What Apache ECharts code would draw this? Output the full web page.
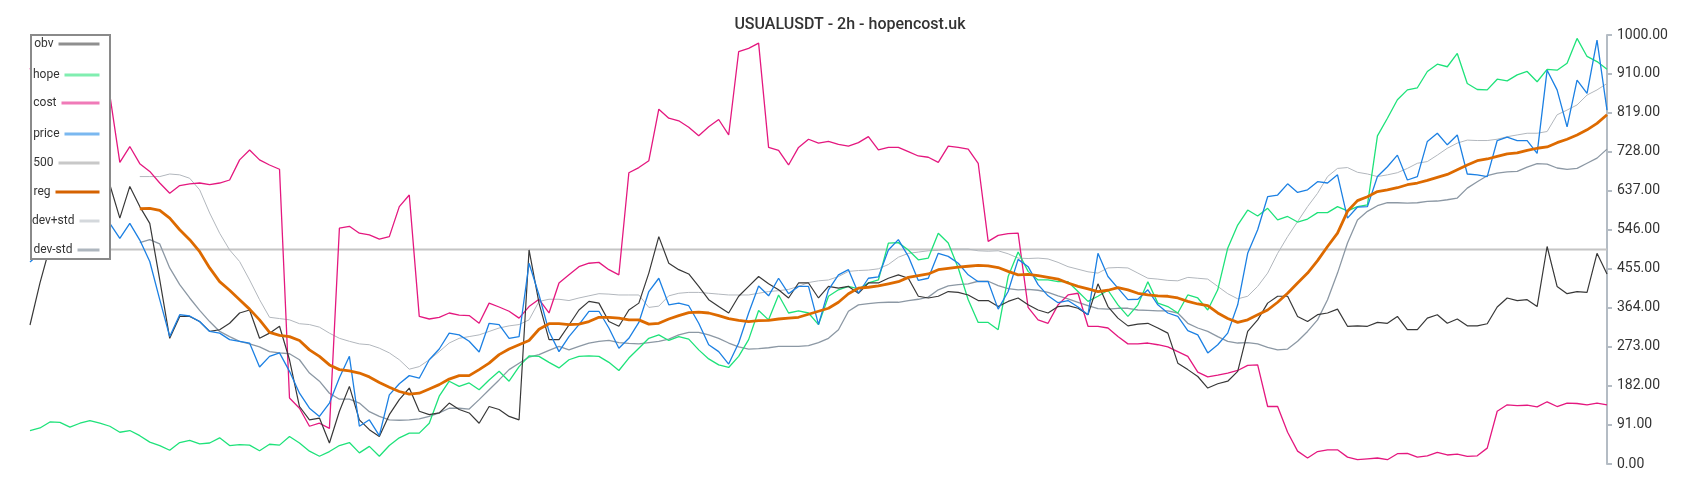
<!DOCTYPE html>
<html>
<head>
<meta charset="utf-8">
<title>USUALUSDT - 2h - hopencost.uk</title>
<script src="https://cdn.jsdelivr.net/npm/echarts@6/dist/echarts.min.js"></script>
<style>
  html, body { margin: 0; padding: 0; background: #fff; }
  #chart { width: 1700px; height: 500px; }
</style>
</head>
<body>
<div id="chart"></div>
<script>
// values, one point per ~10px (2h bars)
const obv = [
  324, 422, 507, 553, 592, 623, 647, 662, 651, 573, 647, 600, 561, 429, 293, 344, 344, 332, 309, 313, 328, 352, 359, 293, 305, 321, 243, 134,
  103, 107, 49, 123, 181, 103, 80, 64, 115, 150, 177, 123, 115, 119, 142, 127, 119, 95, 134, 127, 111, 103, 499, 375, 290, 290, 324,
  359, 379, 375, 332, 321, 359, 375, 445, 530, 468, 453, 443, 414, 383, 367, 352, 391, 414, 437, 420, 406, 387, 422, 422, 387, 414, 410,
  414, 398, 422, 422, 433, 441, 433, 391, 387, 391, 402, 400, 394, 381, 381, 367, 379, 387, 371, 359, 352, 367, 369, 363, 348, 420, 367,
  340, 322, 326, 328, 317, 305, 235, 220, 204, 177, 187, 193, 216, 309, 336, 375, 391, 391, 344, 332, 348, 352, 361, 321, 322, 321, 330,
  328, 344, 313, 313, 340, 348, 328, 338, 322, 322, 327, 366, 387, 381, 383, 367, 507, 414, 397, 402, 400, 491, 443
]

const hope = [
  78, 84, 98, 97, 86, 95, 101, 95, 88, 74, 78, 66, 51, 43, 32, 50, 55, 47, 49, 61, 43, 45, 44, 31, 46, 44, 64, 49,
  30, 18, 29, 43, 50, 26, 41, 18, 43, 61, 72, 72, 95, 158, 193, 181, 189, 173, 196, 216, 193, 227, 252, 251, 237, 224, 243,
  251, 252, 251, 237, 218, 247, 270, 293, 301, 288, 297, 291, 266, 245, 231, 225, 251, 290, 358, 336, 394, 352, 357, 352, 325, 391, 406,
  414, 408, 422, 429, 515, 516, 499, 476, 480, 538, 515, 457, 383, 330, 330, 313, 437, 494, 449, 429, 429, 425, 425, 402, 379, 391, 405,
  371, 344, 371, 425, 375, 367, 352, 394, 387, 359, 406, 503, 557, 592, 578, 596, 569, 577, 564, 571, 586, 586, 600, 590, 600, 604, 765,
  806, 849, 872, 877, 915, 932, 926, 957, 887, 873, 872, 897, 893, 907, 915, 891, 920, 918, 934, 992, 950, 938, 920
]

const cost = [
  920, 960, 990, 998, 975, 945, 915, 885, 860, 703, 740, 700, 682, 655, 631, 649, 653, 655, 651, 655, 662, 709, 732, 709, 697, 687, 154, 130,
  88, 95, 83, 550, 554, 538, 534, 524, 530, 600, 627, 344, 338, 342, 352, 347, 346, 328, 375, 366, 356, 340, 367, 384, 352, 422, 441,
  460, 468, 470, 453, 441, 679, 691, 707, 827, 806, 800, 785, 765, 786, 803, 767, 961, 969, 981, 738, 731, 697, 738, 757, 748, 752, 745,
  741, 749, 763, 732, 738, 738, 728, 718, 715, 703, 741, 738, 734, 701, 519, 533, 537, 538, 365, 336, 328, 371, 394, 398, 321, 321, 317,
  297, 280, 280, 282, 278, 273, 262, 251, 214, 203, 207, 212, 218, 230, 231, 134, 134, 74, 30, 14, 29, 33, 33, 16, 10, 12, 14,
  10, 24, 25, 16, 19, 27, 21, 23, 18, 19, 37, 123, 138, 136, 137, 133, 145, 134, 142, 141, 138, 142, 138
]

const price = [
  471, 491, 507, 530, 554, 569, 577, 569, 561, 526, 561, 522, 472, 383, 297, 348, 345, 332, 309, 305, 290, 286, 282, 226, 251, 259, 216, 165,
  130, 111, 142, 201, 251, 88, 103, 66, 161, 187, 206, 200, 243, 268, 305, 301, 286, 261, 328, 325, 293, 297, 468, 394, 309, 262, 297,
  325, 356, 356, 317, 270, 293, 330, 402, 433, 371, 375, 369, 328, 278, 262, 233, 282, 352, 415, 392, 433, 397, 414, 414, 325, 406, 441,
  453, 398, 433, 436, 499, 523, 484, 428, 433, 491, 484, 468, 441, 425, 425, 361, 402, 477, 460, 418, 392, 376, 381, 366, 348, 491, 437,
  410, 383, 384, 406, 371, 352, 344, 311, 301, 259, 278, 305, 371, 491, 546, 623, 627, 653, 633, 639, 658, 655, 674, 573, 599, 600, 670,
  693, 720, 662, 670, 752, 771, 744, 767, 676, 674, 670, 754, 762, 754, 754, 724, 918, 872, 786, 895, 864, 988, 825
]

const reg = [
  null, null, null, null, null, null, null, null, null, null, null,
  595, 596, 591, 573, 546, 523, 495, 457, 425, 405, 383, 361, 336, 307, 300, 297, 288,
  266, 251, 231, 220, 217, 212, 203, 190, 179, 169, 163, 165, 175, 185, 198, 206, 206, 220, 235, 255, 268, 278, 288, 314, 327, 327, 325,
  326, 332, 342, 342, 340, 336, 336, 326, 328, 338, 346, 353, 354, 352, 346, 339, 335, 332, 334, 335, 338, 340, 342, 349, 356, 363, 377,
  397, 410, 412, 415, 420, 425, 435, 439, 443, 453, 456, 459, 461, 463, 462, 458, 449, 441, 442, 439, 435, 431, 422, 414, 408, 402, 405,
  411, 406, 398, 394, 392, 391, 387, 379, 373, 369, 352, 339, 330, 336, 348, 359, 377, 398, 422, 445, 474, 507, 538, 589, 614, 623, 635,
  639, 644, 651, 655, 661, 668, 675, 686, 697, 707, 711, 717, 723, 725, 731, 736, 739, 749, 757, 767, 779, 794, 814
]

const devPlus = [
  null, null, null, null, null, null, null, null, null, null, null,
  670, 670, 670, 676, 674, 666, 639, 585, 538, 499, 472, 429, 383, 342, 339, 336, 327,
  325, 319, 305, 293, 286, 280, 278, 270, 259, 243, 221, 227, 243, 262, 282, 293, 297, 301, 309, 317, 322, 325, 336, 379, 384, 384, 381,
  387, 392, 397, 396, 394, 394, 394, 365, 368, 392, 398, 400, 400, 398, 396, 394, 394, 394, 398, 402, 404, 407, 414, 423, 427, 429, 437,
  449, 451, 452, 455, 465, 482, 491, 494, 497, 498, 501, 501, 501, 497, 496, 497, 490, 480, 479, 480, 478, 470, 460, 454, 448, 445, 457,
  458, 457, 445, 433, 431, 428, 427, 435, 433, 431, 414, 397, 385, 391, 414, 445, 491, 530, 565, 600, 631, 670, 689, 691, 680, 676, 670,
  674, 679, 689, 701, 705, 720, 736, 748, 755, 754, 754, 757, 763, 767, 771, 771, 775, 814, 825, 837, 860, 872, 887
]

const devMinus = [
  null, null, null, null, null, null, null, null, null, null, null,
  516, 523, 513, 457, 418, 387, 358, 332, 309, 297, 286, 280, 273, 262, 259, 257, 243,
  212, 193, 165, 151, 151, 142, 122, 111, 103, 102, 103, 105, 111, 119, 130, 130, 128, 150, 173, 196, 220, 235, 249, 255, 265, 274, 266,
  274, 282, 286, 288, 283, 281, 280, 283, 286, 291, 301, 307, 307, 301, 293, 282, 273, 268, 269, 271, 274, 274, 274, 276, 283, 293, 313,
  356, 371, 374, 376, 377, 377, 381, 384, 389, 406, 415, 418, 420, 426, 426, 416, 409, 406, 407, 405, 400, 392, 385, 377, 369, 362, 361,
  363, 363, 359, 358, 357, 357, 352, 328, 317, 309, 297, 286, 282, 283, 280, 272, 266, 268, 286, 309, 336, 383, 445, 515, 569, 589, 602,
  609, 609, 608, 609, 612, 613, 616, 620, 643, 658, 672, 678, 681, 682, 692, 700, 699, 690, 687, 689, 701, 713, 734
]

const level = 500
const bars = obv.map((v, i) => i)   // bar index, x axis is hidden
const line500 = bars.map(() => level)

const yTicks = { min: 0, max: 1000, step: 91 }

// legend rows: name, icon colour, icon width, row centre
const legendRows = [
  ['obv', '#8f8f8f', 41, 45],
  ['hope', '#80eeb0', 35, 76],
  ['cost', '#f07ab8', 38, 104],
  ['price', '#7ab8f0', 35, 135],
  ['500', '#c8c8c8', 41, 164],
  ['reg', '#d56200', 44, 193],
  ['dev+std', '#d4d8dc', 20, 222],
  ['dev-std', '#aeb6be', 22, 251]
]

const chart = echarts.init(document.getElementById('chart'))

function line(name, data, color, width, z) {
  return {
    name: name,
    type: 'line',
    data: data,
    symbol: 'none',
    z: z || 2,
    lineStyle: { color: color, width: width },
    itemStyle: { color: color },
    emphasis: { disabled: true }
  }
}

chart.setOption({
  animation: false,
  textStyle: { fontFamily: 'Roboto' },
  title: {
    text: 'USUALUSDT - 2h - hopencost.uk',
    left: 'center',
    top: 12,
    textStyle: { fontSize: 16, fontWeight: 500, color: '#333', fontFamily: 'Roboto' }
  },
  graphic: [{
    type: 'rect',
    z: 3,
    shape: { x: 31, y: 35, width: 79, height: 224 },
    style: { fill: '#fff', stroke: '#8a8a8a', lineWidth: 2 }
  }],
  legend: legendRows.map(r => ({
    data: [r[0]],
    orient: 'vertical',
    align: 'right',
    right: 1599,
    top: r[3] - 7,
    padding: 0,
    itemWidth: r[2],
    itemHeight: 14,
    z: 5,
    // hide the circle marker, keep only the stroke
    itemStyle: { opacity: 0 },
    lineStyle: { color: r[1], width: 3 },
    textStyle: { fontSize: 12, color: '#333', fontFamily: 'Roboto' }
  })),
  grid: { left: 30, right: 93, top: 35, bottom: 36 },
  xAxis: {
    type: 'category',
    data: bars,
    boundaryGap: false,
    show: false
  },
  yAxis: {
    type: 'value',
    position: 'right',
    min: yTicks.min,
    max: yTicks.max,
    interval: yTicks.step,
    splitLine: { show: false },
    axisLine: { show: true, lineStyle: { color: '#b4bcc4', width: 2 } },
    axisTick: { show: true, length: 5, lineStyle: { color: '#b4bcc4', width: 2 } },
    axisLabel: {
      margin: 10,
      color: '#333',
      fontSize: 14,
      fontFamily: 'Roboto',
      formatter: v => v.toFixed(2)
    }
  },
  series: [
    line('500', line500, '#c4c4c4', 2),
    line('dev+std', devPlus, '#b2b7bd', 1),
    line('dev-std', devMinus, '#8c98a4', 1.3),
    line('cost', cost, '#e4187f', 1.3),
    line('hope', hope, '#1ee27a', 1.3),
    line('obv', obv, '#383838', 1.2),
    line('price', price, '#1c80e3', 1.3),
    line('reg', reg, '#dd6a00', 2.8, 2)
  ]
})
</script>
</body>
</html>
